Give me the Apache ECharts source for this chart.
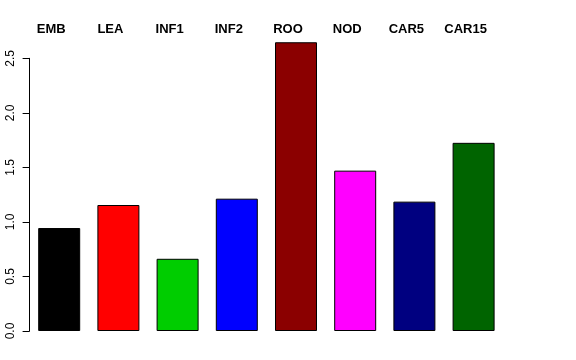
<!DOCTYPE html>
<html><head><meta charset="utf-8">
<script src="https://cdn.jsdelivr.net/npm/echarts@6/dist/echarts.min.js"></script>
<style>html,body{margin:0;padding:0;background:#fff}#c{width:576px;height:360px}</style>
</head><body><div id="c"></div>
<script>
var categories = ['EMB','LEA','INF1','INF2','ROO','NOD','CAR5','CAR15'];
var values = [0.944, 1.155, 0.662, 1.213, 2.647, 1.470, 1.186, 1.725];
var colors = ['#000000','#FF0000','#00CD00','#0000FF','#8B0000','#FF00FF','#000080','#006400'];
var yTicks = [0, 0.5, 1.0, 1.5, 2.0, 2.5];

var chart = echarts.init(document.getElementById('c'), null, {renderer:'canvas'});
chart.setOption({
  animation: false,
  grid: {left: 29.6, width: 473.6, top: 58.3, height: 272.7},
  xAxis: {
    type: 'category', data: categories, position: 'top',
    axisLine: {show: false}, axisTick: {show: false},
    axisLabel: {fontFamily: 'Liberation Sans', fontWeight: 'bold', fontSize: 13, color: '#000', margin: 22, padding: [0,16,0,0]}
  },
  yAxis: {
    type: 'value', min: 0, max: 2.5, interval: 0.5,
    splitLine: {show: false},
    axisLine: {show: true, lineStyle: {color: '#000', width: 1}},
    axisTick: {show: true, length: 7, lineStyle: {color: '#000'}},
    axisLabel: {rotate: 90, margin: 13, fontFamily: 'Liberation Sans', fontSize: 12, color: '#000',
      formatter: function(v){ return v.toFixed(1); }}
  },
  series: [{
    type: 'bar', clip: false, barWidth: 42,
    data: values.map(function(v,i){ return {value: v, itemStyle: {color: colors[i]}}; }),
    itemStyle: {borderColor: '#000', borderWidth: 1}
  }]
});
</script></body></html>
